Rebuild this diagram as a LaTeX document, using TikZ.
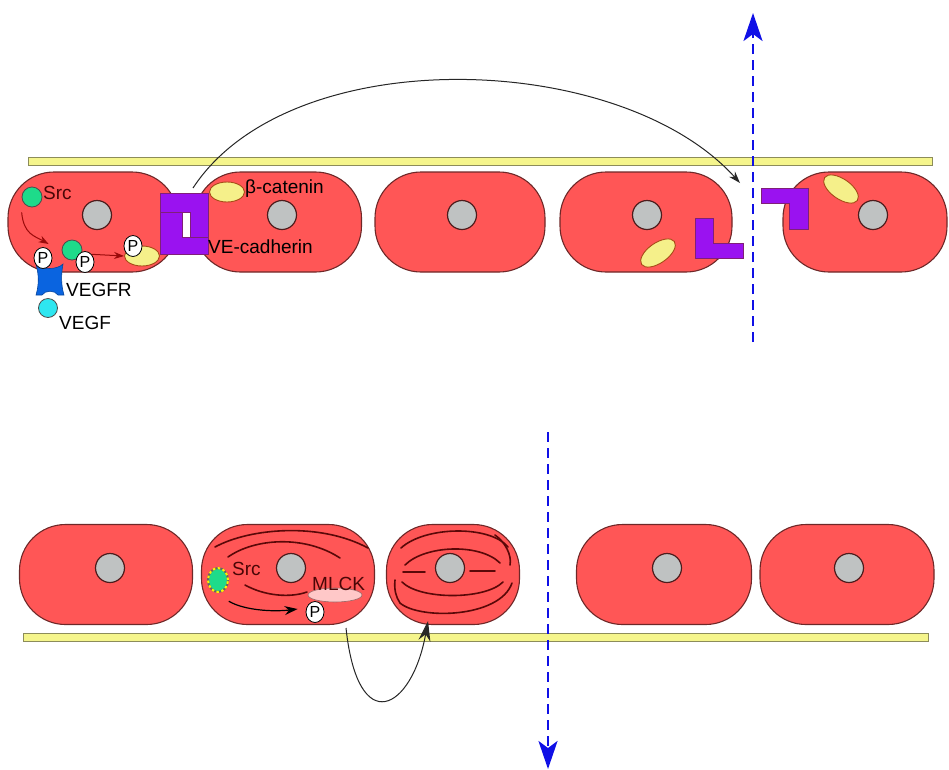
\documentclass[tikz,border=0pt]{standalone}
\usepackage{fontspec}
\setmainfont{Liberation Sans}
\usetikzlibrary{arrows.meta,shapes.geometric}

\definecolor{CellRed}{HTML}{FF5656}
\definecolor{CellEdge}{HTML}{6E2828}
\definecolor{NucGrey}{HTML}{BFC2C2}
\definecolor{MembYellow}{HTML}{F5F58C}
\definecolor{MembEdge}{HTML}{8C8C5A}
\definecolor{CadPurple}{HTML}{9A12F0}
\definecolor{CatYellow}{HTML}{F5F08A}
\definecolor{SrcGreen}{HTML}{1EDB8A}
\definecolor{RecBlue}{HTML}{0A64E0}
\definecolor{LigCyan}{HTML}{2EE6F0}
\definecolor{MlckPink}{HTML}{FFC8C8}
\definecolor{FibreRed}{HTML}{5A0808}
\definecolor{LeakBlue}{HTML}{1010E6}
\definecolor{SignalRed}{HTML}{9A0A0A}
\definecolor{LabelRed}{HTML}{4A0606}

\begin{document}
\begin{tikzpicture}[
    x=1pt,
    y=-1pt,
    font=\fontsize{19}{22}\selectfont,
    cell/.style={draw=CellEdge, fill=CellRed, line width=1.1pt,
                 rounded corners=46pt, minimum width=170pt,
                 minimum height=100pt, inner sep=0pt},
    nucleus/.style={circle, draw=CellEdge!70!black, fill=NucGrey,
                    line width=1.2pt, minimum size=29pt, inner sep=0pt},
    membrane/.style={draw=MembEdge, fill=MembYellow, line width=0.9pt,
                     minimum height=8pt, inner sep=0pt},
    cadherin/.style={draw=CellEdge!60!CadPurple, fill=CadPurple,
                     line width=0.6pt},
    catenin/.style={ellipse, draw=CellEdge!60!orange, fill=CatYellow,
                    line width=0.9pt, minimum width=35pt,
                    minimum height=20pt, inner sep=0pt},
    kinase/.style={circle, draw=black!70, fill=SrcGreen, line width=0.8pt,
                   minimum size=20pt, inner sep=0pt},
    phos/.style={ellipse, draw=black, fill=white, line width=0.8pt,
                 minimum width=18pt, minimum height=21pt, inner sep=0pt,
                 font=\fontsize{16}{16}\selectfont},
    receptor/.style={draw=RecBlue!70!black, fill=RecBlue, line width=0.6pt},
    ligand/.style={circle, draw=black!70, fill=LigCyan, line width=0.8pt,
                   minimum size=19pt, inner sep=0pt},
    label/.style={anchor=west, inner sep=0pt},
    fibre/.style={draw=FibreRed, line width=1.6pt, line cap=round},
    signal/.style={draw=SignalRed, line width=1pt,
                   -{Stealth[length=10pt, width=7pt]}},
    move/.style={draw=black!85, line width=1pt,
                 -{Stealth[length=12pt, width=8pt]}},
    leak/.style={draw=LeakBlue, line width=2.6pt,
                 dash pattern=on 10pt off 6pt,
                 -{Stealth[length=28pt, width=19pt, inset=7pt]}}
]
\useasboundingbox (0,0) rectangle (949,769);

% Basement membranes
\node[membrane, minimum width=904pt] (topmemb) at (480,161) {};
\node[membrane, minimum width=905pt] (botmemb) at (475.5,637.5) {};

% Upper layer: the junction opens once VE-cadherin is phosphorylated
\foreach \x/\w/\n in {93/170/1,278/167/2,460/170/3,646/172/4,865/164/5} {
    \node[cell, minimum width=\w pt] (top\n) at (\x,222) {};
}
\foreach \x/\n in {97/1,282/2,462/3,647/4,873/5} {
    \node[nucleus] (topnuc\n) at (\x,215) {};
}

% Lower layer: cell 3 has contracted round its stress fibres
\foreach \x/\w/\n in {106/173/1,288/173/2,453/133/3,664/175/4,847/174/5} {
    \node[cell, minimum width=\w pt] (bot\n) at (\x,574.5) {};
}
\foreach \x/\n in {110/1,291/2,450/3,667/4,849/5} {
    \node[nucleus] (botnuc\n) at (\x,568) {};
}

% Closed junction: two interlocking VE-cadherin halves
\path[cadherin] (160,193) -- (208,193) -- (208,237) -- (190,237)
                -- (190,212) -- (160,212) -- cycle;
\path[cadherin] (160,212) -- (182,212) -- (182,237) -- (208,237)
                -- (208,254) -- (160,254) -- cycle;
% Open junction: the halves have come apart
\path[cadherin] (695,218) -- (713,218) -- (713,243) -- (743,243)
                -- (743,258) -- (695,258) -- cycle;
\path[cadherin] (761,188) -- (808,188) -- (808,229) -- (789,229)
                -- (789,203) -- (761,203) -- cycle;

\node[catenin] (cat1) at (227,192) {};
\node[catenin] (cat2) at (142,256) {};
\node[catenin, minimum width=40pt, rotate=35] (cat3) at (658,253) {};
\node[catenin, minimum width=40pt, rotate=-35] (cat4) at (841,189) {};

\node[label] (catlab) at (245,189) {β-catenin};
\node[label] (cadlab) at (208,247) {VE-cadherin};

% VEGF signalling in the first cell
\path[receptor] (36,264) .. controls (42,270) and (57,270) .. (63,264)
      .. controls (61,275) and (61,285) .. (64,295) -- (58,295)
      .. controls (55,290) and (45,290) .. (42,295) -- (36,295)
      .. controls (39,285) and (39,275) .. cycle;
\node[phos] (pRec) at (43,258) {P};
\node[ligand] (vegf) at (48,308) {};
\node[label] (reclab) at (66,290) {VEGFR};
\node[label] (liglab) at (59,323) {VEGF};

\node[kinase] (src) at (32,197) {};
\node[label, text=LabelRed] (srclab) at (43,193) {Src};
\node[kinase] (srcact) at (72,250) {};
\node[phos] (pSrc) at (85,262) {P};
\node[phos] (pCat) at (133,246) {P};

\draw[signal] ([shift={(-3pt,-8pt)}]src.south west)
      .. controls +(2,22) and +(-14,-8) .. ([shift={(-13pt,6pt)}]srcact.west);
\draw[signal] (pSrc.north east) -- (cat2.west);

% Released VE-cadherin travels to the opened gap
\coordinate (junc) at (193,188);
\coordinate (gap) at (740,183);
\draw[move] (junc) .. controls (290,40) and (620,50) .. (gap);

% Stress fibres in the lower cells
\draw[fibre] (215,547) .. controls (250,528) and (320,522) .. (368,548);
\draw[fibre] (228,557) .. controls (255,538) and (305,535) .. (340,558);
\draw[fibre] (245,585) .. controls (265,596) and (290,598) .. (307,592);

\draw[fibre] (401,548) .. controls (425,526) and (490,525) .. (508,547);
\draw[fibre] (495,535) .. controls (505,542) and (512,555) .. (510,565);
\draw[fibre] (405,565) .. controls (425,545) and (480,543) .. (500,563);
\draw[fibre] (403,572) -- (425,572);
\draw[fibre] (470,571) -- (495,571);
\draw[fibre] (402,582) .. controls (420,600) and (485,600) .. (503,582);
\draw[fibre] (395,580) .. controls (394,590) and (396,597) .. (400,603);
\draw[fibre] (400,603) .. controls (420,620) and (500,618) .. (512,583);

% Src activates MLCK
\node[kinase, ellipse, minimum width=20pt, minimum height=24pt,
      draw=black!60, line width=2pt,
      postaction={draw=yellow, dash pattern=on 2.5pt off 2.5pt, line width=2pt}]
      (src2) at (218,580) {};
\node[label, text=LabelRed] (src2lab) at (232,569) {Src};
\node[ellipse, draw=CellEdge!70, fill=MlckPink, line width=0.6pt,
      minimum width=54pt, minimum height=14pt, inner sep=0pt] (mlck) at (335,595) {};
\node[label, text=LabelRed] (mlcklab) at (312,584) {MLCK};
\node[phos] (pMlck) at (315,612) {P};

\draw[draw=black, line width=1.2pt, -{Stealth[length=13pt, width=9pt]}]
      ([shift={(3pt,-12pt)}]src2.south east)
      .. controls +(15,9) and +(-25,3) .. ([shift={(-8pt,3pt)}]pMlck.west);

% Contraction passed on to the neighbouring cell
\coordinate (pull) at (346,628);
\coordinate (pulled) at (428,621);
\draw[draw=black!85, line width=1pt, -{Stealth[length=20pt, width=12pt]}]
      (pull) .. controls (358,740) and (412,710) .. (pulled);

% Leakage through the open gaps
\coordinate (leakA) at (753,342);
\coordinate (leakAend) at (753,13);
\draw[leak] (leakA) -- (leakAend);
\coordinate (leakB) at (548,432);
\coordinate (leakBend) at (548,769);
\draw[leak] (leakB) -- (leakBend);
\end{tikzpicture}
\end{document}
